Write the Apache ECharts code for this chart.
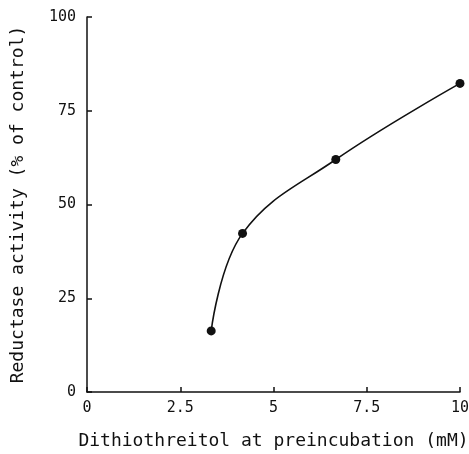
<!DOCTYPE html>
<html>
<head>
<meta charset="utf-8">
<script src="https://cdn.jsdelivr.net/npm/echarts@6/dist/echarts.min.js"></script>
<style>
html,body{margin:0;padding:0;background:#fff;}
#c{width:469px;height:454px;}
</style>
</head>
<body>
<div id="c"></div>
<script>
var dtt = [3.33, 4.17, 6.67, 10];
var activity = [16.3, 42.3, 62, 82.3];
var xTicks = [0, 2.5, 5, 7.5, 10];
var yTicks = [0, 25, 50, 75, 100];
var xTitle = 'Dithiothreitol at preincubation (mM)';
var yTitle = 'Reductase activity (% of control)';

var font = '"DejaVu Sans Mono", monospace';
var chart = echarts.init(document.getElementById('c'), null, {renderer: 'canvas'});
var pts = dtt.map(function (x, i) { return [x, activity[i]]; });
chart.setOption({
  animation: false,
  backgroundColor: '#fff',
  grid: {left: 87, right: 9, top: 17, bottom: 62, containLabel: false, outerBoundsMode: 'none'},
  xAxis: {
    type: 'value', min: 0, max: 10, interval: 2.5,
    name: xTitle, nameLocation: 'middle', nameGap: 40,
    nameTextStyle: {fontFamily: font, fontSize: 18, color: '#111'},
    axisLine: {show: true, lineStyle: {color: '#111', width: 1.5}},
    axisTick: {show: true, inside: true, length: 5, lineStyle: {color: '#111', width: 1.5}},
    axisLabel: {fontFamily: font, fontSize: 15, color: '#111', margin: 9,
      formatter: function (v) { return xTicks.indexOf(v) >= 0 ? String(v) : ''; }},
    splitLine: {show: false}
  },
  yAxis: {
    type: 'value', min: 0, max: 100, interval: 25,
    name: yTitle, nameLocation: 'middle', nameGap: 60, nameRotate: 90,
    nameTextStyle: {fontFamily: font, fontSize: 18, color: '#111'},
    axisLine: {show: true, lineStyle: {color: '#111', width: 1.5}},
    axisTick: {show: true, inside: true, length: 5, lineStyle: {color: '#111', width: 1.5}},
    axisLabel: {fontFamily: font, fontSize: 15, color: '#111', margin: 11,
      formatter: function (v) { return yTicks.indexOf(v) >= 0 ? String(v) : ''; }},
    splitLine: {show: false}
  },
  series: [{
    type: 'line', data: pts, smooth: 0.4,
    symbol: 'circle', symbolSize: 9,
    itemStyle: {color: '#111'},
    lineStyle: {color: '#111', width: 1.6}
  }]
});
</script>
</body>
</html>
